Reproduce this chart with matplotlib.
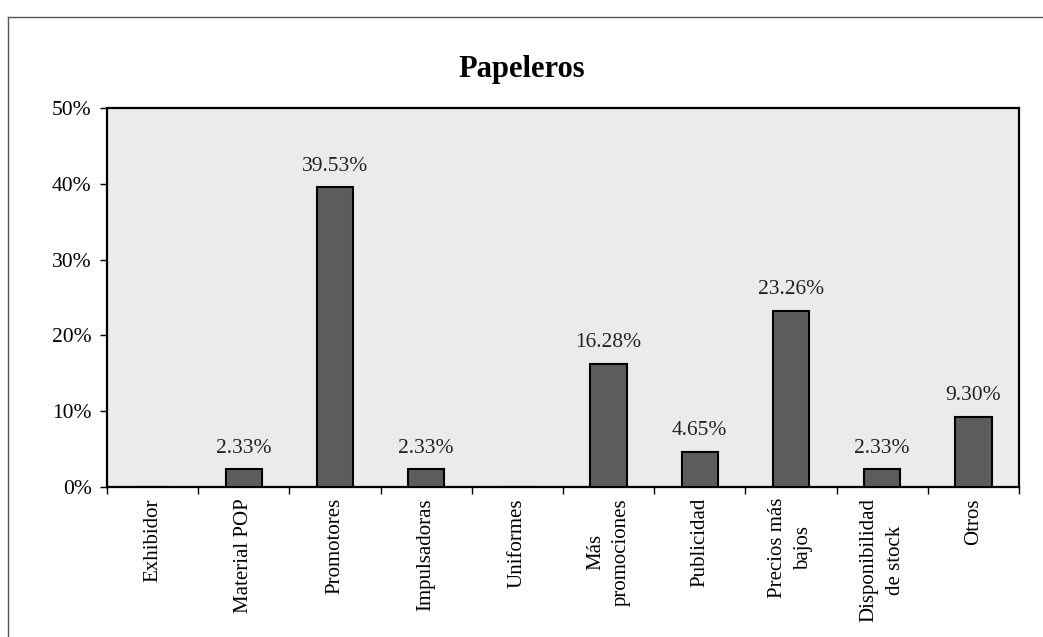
import numpy as np
import matplotlib
matplotlib.use('Agg')
import matplotlib.pyplot as plt
from matplotlib.lines import Line2D
from matplotlib.ticker import FuncFormatter

categories = ['Exhibidor', 'Material POP', 'Promotores', 'Impulsadoras', 'Uniformes',
              'Más\npromociones', 'Publicidad', 'Precios más\nbajos',
              'Disponibilidad\nde stock', 'Otros']
values = [0.0, 2.33, 39.53, 2.33, 0.0, 16.28, 4.65, 23.26, 2.33, 9.30]
labels = ['', '2.33%', '39.53%', '2.33%', '', '16.28%', '4.65%', '23.26%', '2.33%', '9.30%']
yticks = [0, 10, 20, 30, 40, 50]

plt.rcParams['font.family'] = ['Liberation Serif', 'DejaVu Serif']

fig = plt.figure(figsize=(10.43, 6.37), dpi=100)
ax = fig.add_axes([107/1043, 1 - 487/637, (1019 - 107)/1043, (487 - 108)/637])
ax.set_facecolor('#ebebeb')

x = np.arange(len(categories))
ax.bar(x, values, width=0.4, color='#5c5c5c', edgecolor='black', linewidth=1.5, zorder=3)
for xi, v, lab in zip(x, values, labels):
    if lab:
        ax.text(xi, v + 1.5, lab, ha='center', va='bottom', fontsize=15.5, color='#222222')

ax.set_xlim(-0.5, len(categories) - 0.5)
ax.set_ylim(0, 50)
ax.set_yticks(yticks)
ax.yaxis.set_major_formatter(FuncFormatter(lambda v, p: f'{int(v)}%'))
ax.set_xticks(np.arange(len(categories) + 1) - 0.5, minor=True)
ax.set_xticks(x)
ax.set_xticklabels(categories, rotation=90, fontsize=15, va='top', ha='center', linespacing=1.5)
ax.tick_params(axis='x', which='major', length=0, pad=8)
ax.tick_params(axis='x', which='minor', length=5, width=1)
ax.tick_params(axis='y', labelsize=15.5, length=5, width=1, pad=6)
for s in ax.spines.values():
    s.set_linewidth(1.6)

fig.suptitle('Papeleros', fontsize=22, fontweight='bold', y=1 - 70/637, va='center')

# outer chart border (top and left visible in the scan)
fig.add_artist(Line2D([8/1043, 8/1043], [0, 1 - 17/637], transform=fig.transFigure, color='#555555', lw=1))
fig.add_artist(Line2D([8/1043, 1], [1 - 17/637, 1 - 17/637], transform=fig.transFigure, color='#555555', lw=1))

fig.savefig('out.png', dpi=100)
